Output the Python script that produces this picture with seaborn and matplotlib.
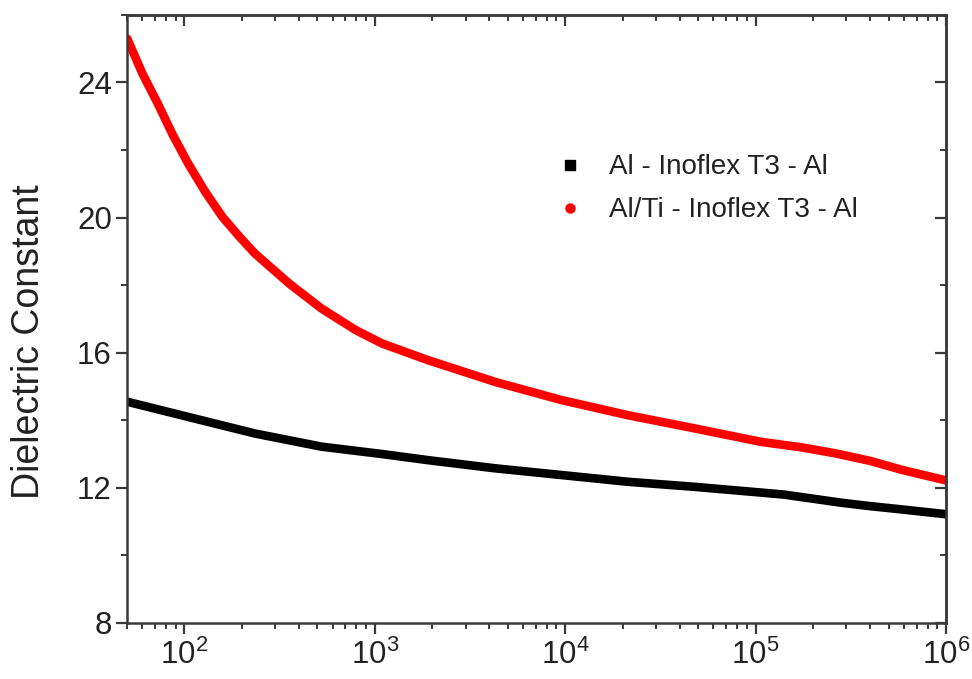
import numpy as np
import pandas as pd
import matplotlib
matplotlib.use("Agg")
import matplotlib.pyplot as plt
import seaborn as sns
from matplotlib.lines import Line2D
from matplotlib.ticker import LogLocator, MultipleLocator, LogFormatterMathtext

# ---- data ----
red_logf = [1.70, 1.78, 1.86, 1.94, 2.02, 2.11, 2.20, 2.29, 2.37, 2.55, 2.72, 2.90, 3.04,
            3.28, 3.63, 3.98, 4.33, 4.68, 5.03, 5.24, 5.42, 5.60, 5.77, 6.00]
red_eps  = [25.3, 24.26, 23.38, 22.44, 21.6, 20.76, 20.02, 19.43, 18.94, 18.05, 17.31, 16.67, 16.27,
            15.78, 15.14, 14.6, 14.15, 13.76, 13.36, 13.2, 13.02, 12.8, 12.53, 12.22]

black_logf = [1.70, 2.02, 2.37, 2.72, 3.04, 3.28, 3.63, 3.98, 4.33, 4.68, 5.03, 5.15, 5.30, 5.45, 5.60, 5.77, 6.00]
black_eps  = [14.55, 14.10, 13.61, 13.22, 13.0, 12.82, 12.58, 12.38, 12.18, 12.03, 11.86, 11.8, 11.68, 11.56, 11.46, 11.36, 11.22]

labels = ["Al - Inoflex T3 - Al", "Al/Ti - Inoflex T3 - Al"]
colors = ["#000000", "#ff0000"]

df = pd.concat([
    pd.DataFrame({"freq": np.power(10.0, black_logf), "eps": black_eps, "sample": labels[0]}),
    pd.DataFrame({"freq": np.power(10.0, red_logf), "eps": red_eps, "sample": labels[1]}),
])

sns.set_style("ticks")
plt.rcParams["font.family"] = ["Liberation Sans", "DejaVu Sans"]
plt.rcParams["mathtext.default"] = "regular"

fig = plt.figure(figsize=(9.72, 6.79), dpi=100)
ax = fig.add_axes([0.1307, 0.0825, 0.8426, 0.8955])

sns.lineplot(data=df, x="freq", y="eps", hue="sample", palette=dict(zip(labels, colors)),
             linewidth=6.2, ax=ax, legend=False, sort=True)

ax.set_xscale("log")
ax.set_xlim(50, 1e6)
ax.set_ylim(8, 26)
ax.yaxis.set_major_locator(MultipleLocator(4))
ax.yaxis.set_minor_locator(MultipleLocator(2))
ax.xaxis.set_major_locator(LogLocator(base=10))
ax.xaxis.set_minor_locator(LogLocator(base=10, subs=np.arange(2, 10)))
ax.xaxis.set_major_formatter(LogFormatterMathtext())

ax.set_xlabel("")
ax.set_ylabel("Dielectric Constant", fontsize=27, color="#222222")
ax.yaxis.set_label_coords(-0.098, 0.462)

spine_c = "#3a3a3a"
for s in ax.spines.values():
    s.set_linewidth(1.8)
    s.set_color(spine_c)

ax.tick_params(axis="both", which="major", direction="out", length=8, width=1.6,
               labelsize=22.5, colors=spine_c, labelcolor="#222222")
ax.tick_params(axis="both", which="minor", direction="out", length=4.5, width=1.4, colors=spine_c)
ax.tick_params(axis="x", which="major", pad=4)
ax.tick_params(axis="y", which="major", pad=3)

# mirrored inward ticks on top and right
secx = ax.secondary_xaxis("top")
secx.set_xscale("log")
secx.xaxis.set_major_locator(LogLocator(base=10))
secx.xaxis.set_minor_locator(LogLocator(base=10, subs=np.arange(2, 10)))
secx.tick_params(which="major", direction="in", length=8, width=1.6, labeltop=False, colors=spine_c)
secx.tick_params(which="minor", direction="in", length=4.5, width=1.4, colors=spine_c)
secx.spines["top"].set_linewidth(1.8)
secx.spines["top"].set_color(spine_c)

secy = ax.secondary_yaxis("right")
secy.yaxis.set_major_locator(MultipleLocator(4))
secy.yaxis.set_minor_locator(MultipleLocator(2))
secy.tick_params(which="major", direction="in", length=8, width=1.6, labelright=False, colors=spine_c)
secy.tick_params(which="minor", direction="in", length=4.5, width=1.4, colors=spine_c)
secy.spines["right"].set_linewidth(1.8)
secy.spines["right"].set_color(spine_c)

handles = [
    Line2D([], [], linestyle="none", marker="s", markersize=6.5, color=colors[0]),
    Line2D([], [], linestyle="none", marker="o", markersize=6.5, color=colors[1]),
]
leg = ax.legend(handles, labels, loc="upper left", bbox_to_anchor=(0.497, 0.812),
                frameon=False, fontsize=20, handletextpad=1.0, labelspacing=0.62,
                handlelength=0.8)
for t in leg.get_texts():
    t.set_color("#222222")

fig.savefig("out.png", dpi=100)
